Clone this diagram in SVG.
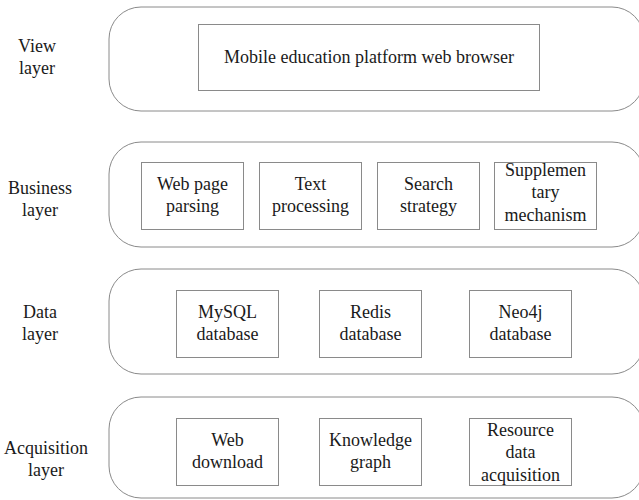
<svg xmlns="http://www.w3.org/2000/svg" width="639" height="500" viewBox="0 0 639 500">
<style>
.layer{fill:#fff;stroke:#8a8a8a;stroke-width:1}
.box{fill:#fff;stroke:#8a8a8a;stroke-width:1}
text{font-family:"Liberation Serif",serif;font-size:18px;fill:#1a1a1a;text-anchor:middle}
</style>
<rect width="639" height="500" fill="#fff"/>
<g id="view-layer">
<rect class="layer" x="109" y="7" width="535" height="104" rx="32" ry="32"/>
<text x="37" y="52">View</text><text x="37" y="74">layer</text>
</g>
<g id="business-layer">
<rect class="layer" x="109" y="142" width="535" height="105" rx="32" ry="32"/>
<text x="40" y="194">Business</text><text x="40" y="216">layer</text>
</g>
<g id="data-layer">
<rect class="layer" x="109" y="269" width="535" height="105" rx="32" ry="32"/>
<text x="40" y="318">Data</text><text x="40" y="340">layer</text>
</g>
<g id="acquisition-layer">
<rect class="layer" x="109" y="397" width="535" height="101" rx="32" ry="32"/>
<text x="46" y="454">Acquisition</text><text x="46" y="476">layer</text>
</g>
<g id="browser">
<rect class="box" x="198.5" y="24.5" width="341" height="66"/>
<text x="369" y="63">Mobile education platform web browser</text>
</g>
<g id="web-page-parsing">
<rect class="box" x="141.5" y="162.5" width="102" height="67"/>
<text x="192.5" y="190">Web page</text><text x="192.5" y="212">parsing</text>
</g>
<g id="text-processing">
<rect class="box" x="259.5" y="162.5" width="102" height="67"/>
<text x="310.5" y="190">Text</text><text x="310.5" y="212">processing</text>
</g>
<g id="search-strategy">
<rect class="box" x="377.5" y="162.5" width="102" height="67"/>
<text x="428.5" y="190">Search</text><text x="428.5" y="212">strategy</text>
</g>
<g id="supplementary-mechanism">
<rect class="box" x="494.5" y="162.5" width="102" height="67"/>
<text x="545.5" y="176">Supplemen</text><text x="545.5" y="198">tary</text><text x="545.5" y="221">mechanism</text>
</g>
<g id="mysql">
<rect class="box" x="176.5" y="290.5" width="102" height="67"/>
<text x="227.5" y="318">MySQL</text><text x="227.5" y="340">database</text>
</g>
<g id="redis">
<rect class="box" x="319.5" y="290.5" width="102" height="67"/>
<text x="370.5" y="318">Redis</text><text x="370.5" y="340">database</text>
</g>
<g id="neo4j">
<rect class="box" x="469.5" y="290.5" width="102" height="67"/>
<text x="520.5" y="318">Neo4j</text><text x="520.5" y="340">database</text>
</g>
<g id="web-download">
<rect class="box" x="176.5" y="418.5" width="102" height="67"/>
<text x="227.5" y="446">Web</text><text x="227.5" y="468">download</text>
</g>
<g id="knowledge-graph">
<rect class="box" x="319.5" y="418.5" width="102" height="67"/>
<text x="370.5" y="446">Knowledge</text><text x="370.5" y="468">graph</text>
</g>
<g id="resource-data-acquisition">
<rect class="box" x="469.5" y="418.5" width="102" height="67"/>
<text x="520.5" y="436">Resource</text><text x="520.5" y="458">data</text><text x="520.5" y="481">acquisition</text>
</g>
<g id="connectors"></g>
</svg>
